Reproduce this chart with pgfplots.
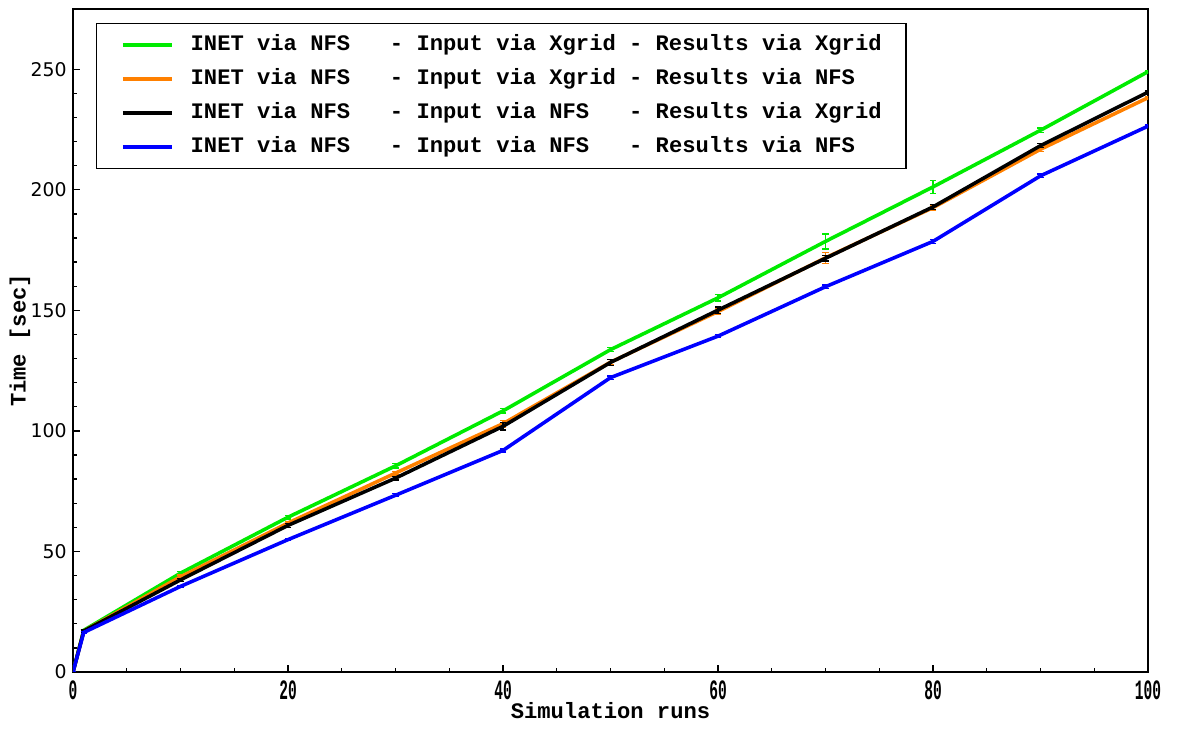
\documentclass[border=0pt]{standalone}
\usepackage{fontspec}
\usepackage{graphicx}
\usepackage{pgfplots}
\pgfplotsset{compat=1.18}
\newfontfamily\mono{Liberation Mono}
\newfontfamily\djv{DejaVu Sans}
\definecolor{cgreen}{RGB}{0,235,0}
\definecolor{corange}{RGB}{255,128,0}
\definecolor{cblue}{RGB}{0,0,255}

\pgfplotsset{
  run/.style={line width=1.25pt, error bars/.cd, y dir=both, y explicit,
    error bar style={line width=0.45pt},
    error mark options={rotate=90, mark size=1.1pt, line width=0.45pt}},
}

\begin{document}
\begin{tikzpicture}
\begin{axis}[
  scale only axis,
  width=376.25pt, height=232.05pt,
  xmin=0, xmax=100, ymin=0, ymax=275,
  xtick={0,20,...,100}, ytick={0,50,...,250},
  minor x tick num=3, minor y tick num=4,
  xtick pos=bottom, ytick pos=left,
  tick align=inside,
  major tick length=2.4pt, minor tick length=1.4pt,
  tick style={black, line width=0.45pt},
  axis line style={line width=0.55pt},
  /pgf/number format/assume math mode=true,
  yticklabel style={font=\djv\fontsize{6.6}{7}\selectfont, inner sep=2pt},
  xticklabel={\scalebox{0.52}[1]{\mono\bfseries\fontsize{9.8}{10}\selectfont\pgfmathprintnumber{\tick}}},
  xticklabel style={inner sep=1.5pt, yshift=-1.4pt},
  xlabel={Simulation runs},
  ylabel={Time [sec]},
  label style={font=\mono\bfseries\fontsize{7.75}{9}\selectfont},
  xlabel style={at={(axis description cs:0.5,-0.0588)}, anchor=center},
  ylabel style={at={(axis description cs:-0.0493,0.5)}, anchor=center},
  legend style={at={(0.0214,0.979)}, anchor=north west,
    draw=black, line width=0.5pt,
    font=\mono\bfseries\fontsize{7.75}{9}\selectfont,
    inner xsep=8.5pt, inner ysep=3.5pt,
    row sep=3.9pt, column sep=6pt,
    nodes={inner sep=0pt, text height=6pt, text depth=2pt},
    cells={anchor=west}},
  legend image code/.code={\draw[line width=1.4pt] (0pt,0pt) -- (17pt,0pt);},
]
\addplot[cgreen, run] coordinates {
  (0,0) +- (0,0) (1,17.3) +- (0,0.4) (10,41.0) +- (0,0.8) (20,64.2) +- (0,0.8)
  (30,85.5) +- (0,0.9) (40,108.3) +- (0,0.9) (50,133.7) +- (0,0.9) (60,155.2) +- (0,1.3)
  (70,178.6) +- (0,3.1) (80,201.2) +- (0,2.6) (90,224.7) +- (0,0.9) (100,249.0) +- (0,0.5)};
\addplot[corange, run] coordinates {
  (0,0) +- (0,0) (1,17.0) +- (0,0.4) (10,39.5) +- (0,0.7) (20,61.8) +- (0,0.7)
  (30,82.5) +- (0,0.8) (40,103.0) +- (0,1.4) (50,128.5) +- (0,1.0) (60,149.5) +- (0,1.3)
  (70,171.8) +- (0,2.3) (80,192.6) +- (0,1.0) (90,216.8) +- (0,1.0) (100,238.2) +- (0,0.5)};
\addplot[black, run] coordinates {
  (0,0) +- (0,0) (1,17.0) +- (0,0.4) (10,38.2) +- (0,0.7) (20,60.8) +- (0,0.8)
  (30,80.4) +- (0,0.8) (40,101.9) +- (0,1.5) (50,128.4) +- (0,1.2) (60,150.1) +- (0,1.3)
  (70,171.6) +- (0,1.1) (80,192.9) +- (0,1.1) (90,218.3) +- (0,0.8) (100,240.5) +- (0,0.5)};
\addplot[cblue, run] coordinates {
  (0,0) +- (0,0) (1,16.4) +- (0,0.3) (10,35.5) +- (0,0.5) (20,54.9) +- (0,0.5)
  (30,73.3) +- (0,0.6) (40,91.9) +- (0,0.6) (50,122.1) +- (0,0.7) (60,139.3) +- (0,0.6)
  (70,159.8) +- (0,0.7) (80,178.6) +- (0,0.8) (90,205.8) +- (0,0.7) (100,226.4) +- (0,0.5)};
\legend{
  INET~via~NFS~~~-~Input~via~Xgrid~-~Results~via~Xgrid,
  INET~via~NFS~~~-~Input~via~Xgrid~-~Results~via~NFS,
  INET~via~NFS~~~-~Input~via~NFS~~~-~Results~via~Xgrid,
  INET~via~NFS~~~-~Input~via~NFS~~~-~Results~via~NFS}
\end{axis}
\path ([shift={(-25.55pt,-18.2pt)}]current axis.south west)
  rectangle ([shift={(10.15pt,3.15pt)}]current axis.north east);
\end{tikzpicture}
\end{document}
